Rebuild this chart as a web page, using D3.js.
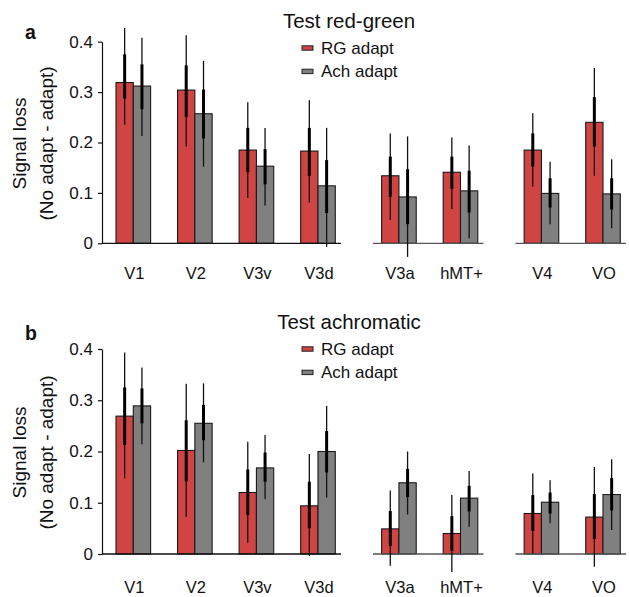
<!DOCTYPE html>
<html>
<head>
<meta charset="utf-8">
<script src="https://cdn.jsdelivr.net/npm/d3@7"></script>
<style>
    body { margin: 0; background: #fff; }
    text { font-family: "Liberation Sans", Arial, sans-serif; fill: #111; }
</style>
</head>
<body>
<div class="canvas"></div>
<script>
// Data
const regions = ['V1', 'V2', 'V3v', 'V3d', 'V3a', 'hMT+', 'V4', 'VO'];
const regionGroup = [0, 0, 0, 0, 1, 1, 2, 2];
const yTicks = [0, 0.1, 0.2, 0.3, 0.4];
const seriesNames = ['RG adapt', 'Ach adapt'];

// Panel a: test red-green
const rgTestRgAdapt = [0.319, 0.304, 0.185, 0.183, 0.134, 0.141, 0.185, 0.240];
const rgTestRgInner = [[0.287, 0.375], [0.251, 0.353], [0.141, 0.229], [0.134, 0.229], [0.092, 0.172], [0.108, 0.172], [0.152, 0.218], [0.192, 0.290]];
const rgTestRgOuter = [[0.235, 0.427], [0.192, 0.413], [0.090, 0.280], [0.081, 0.284], [0.046, 0.218], [0.068, 0.210], [0.112, 0.258], [0.134, 0.348]];
const rgTestAchAdapt = [0.312, 0.257, 0.153, 0.114, 0.092, 0.104, 0.099, 0.098];
const rgTestAchInner = [[0.266, 0.355], [0.208, 0.305], [0.117, 0.187], [0.060, 0.165], [0.038, 0.147], [0.061, 0.144], [0.071, 0.129], [0.067, 0.129]];
const rgTestAchOuter = [[0.213, 0.408], [0.152, 0.362], [0.075, 0.229], [-0.007, 0.229], [-0.027, 0.212], [0.010, 0.194], [0.038, 0.162], [0.030, 0.167]];

// Panel b: test achromatic
const achTestRgAdapt = [0.269, 0.202, 0.120, 0.094, 0.049, 0.040, 0.079, 0.072];
const achTestRgInner = [[0.213, 0.325], [0.142, 0.261], [0.076, 0.165], [0.050, 0.141], [0.016, 0.084], [0.006, 0.074], [0.045, 0.115], [0.029, 0.117]];
const achTestRgOuter = [[0.148, 0.393], [0.072, 0.332], [0.022, 0.219], [-0.004, 0.195], [-0.023, 0.124], [-0.035, 0.115], [0.001, 0.157], [-0.025, 0.170]];
const achTestAchAdapt = [0.289, 0.255, 0.168, 0.200, 0.139, 0.109, 0.101, 0.116];
const achTestAchInner = [[0.255, 0.323], [0.222, 0.291], [0.141, 0.198], [0.159, 0.240], [0.111, 0.166], [0.083, 0.133], [0.079, 0.120], [0.085, 0.148]];
const achTestAchOuter = [[0.214, 0.364], [0.179, 0.333], [0.107, 0.232], [0.110, 0.289], [0.077, 0.200], [0.053, 0.162], [0.060, 0.144], [0.047, 0.185]];

const colors = ['#d04444', '#808080'];

// Layout
const dims = { width: 629, height: 597, axisX: 102, barWidth: 17.3, groupGap: 0.315 };

const svg = d3.select('.canvas')
    .append('svg')
    .attr('width', dims.width)
    .attr('height', dims.height);

// slot position of each region, with extra space between groups
const slot = regions.map((r, i) => i + regionGroup[i] * dims.groupGap);
const x = d3.scaleLinear()
    .domain([0, d3.max(slot)])
    .range([133.3, 603]);

const panels = [
    { label: 'a', title: 'Test red-green', top: 41.7, bottom: 243.3, dy: 0,
      values: [rgTestRgAdapt, rgTestAchAdapt], inner: [rgTestRgInner, rgTestAchInner], outer: [rgTestRgOuter, rgTestAchOuter] },
    { label: 'b', title: 'Test achromatic', top: 349, bottom: 554, dy: 301,
      values: [achTestRgAdapt, achTestAchAdapt], inner: [achTestRgInner, achTestAchInner], outer: [achTestRgOuter, achTestAchOuter] }
];

panels.forEach(p => {
    const g = svg.append('g');
    const y = d3.scaleLinear().domain([0, 0.4]).range([p.bottom, p.top]);

    // Panel letter and title
    g.append('text')
        .attr('x', 25).attr('y', 38.5 + p.dy)
        .attr('font-size', 19.5).attr('font-weight', 'bold')
        .text(p.label);
    g.append('text')
        .attr('x', 349).attr('y', 28 + p.dy)
        .attr('text-anchor', 'middle')
        .attr('font-size', 20.5)
        .text(p.title);

    // Legend
    seriesNames.forEach((name, s) => {
        const cy = 48 + s * 23.4 + p.dy;
        g.append('rect')
            .attr('x', 302).attr('y', cy - 2.2)
            .attr('width', 11).attr('height', 4.4)
            .attr('fill', colors[s]).attr('stroke', '#222').attr('stroke-width', 1);
        g.append('text')
            .attr('x', 321).attr('y', cy + 6)
            .attr('font-size', 17)
            .text(name);
    });

    // Y axis
    const yAxis = d3.axisLeft(y)
        .tickValues(yTicks)
        .tickSize(4)
        .tickSizeOuter(0)
        .tickPadding(5)
        .tickFormat(d => d === 0 ? '0' : d.toFixed(1));
    const ax = g.append('g')
        .attr('transform', `translate(${dims.axisX},0)`)
        .call(yAxis);
    ax.select('.domain').attr('stroke', '#111').attr('stroke-width', 1.2);
    ax.selectAll('.tick line').attr('stroke', '#111').attr('stroke-width', 1.2);
    ax.selectAll('.tick text')
        .attr('font-size', 17)
        .attr('font-family', '"Liberation Sans", Arial, sans-serif')
        .attr('fill', '#111');

    // Y label
    const midY = (p.top + p.bottom) / 2 + 1;
    [['Signal loss', 19], ['(No adapt - adapt)', 46]].forEach(([t, lx]) => {
        g.append('text')
            .attr('transform', `translate(${lx},${midY}) rotate(-90)`)
            .attr('text-anchor', 'middle')
            .attr('dominant-baseline', 'central')
            .attr('font-size', 19)
            .text(t);
    });

    // Bars
    p.values.forEach((vals, s) => {
        const offset = s === 0 ? -dims.barWidth : 0;
        g.selectAll(null)
            .data(vals)
            .enter()
            .append('rect')
                .attr('x', (d, i) => x(slot[i]) + offset)
                .attr('y', d => y(d))
                .attr('width', dims.barWidth)
                .attr('height', d => y(0) - y(d))
                .attr('fill', colors[s])
                .attr('stroke', '#1a1a1a')
                .attr('stroke-width', 1.1);
    });

    // Group baselines
    d3.range(3).forEach(gi => {
        const idx = regions.map((r, i) => i).filter(i => regionGroup[i] === gi);
        const x0 = gi === 0 ? dims.axisX : x(slot[idx[0]]) - 26;
        const x1 = x(slot[idx[idx.length - 1]]) + 23;
        g.append('line')
            .attr('x1', x0).attr('x2', x1)
            .attr('y1', y(0)).attr('y2', y(0))
            .attr('stroke', gi === 0 ? '#111' : '#555')
            .attr('stroke-width', 1.3);
    });

    // Error bars
    p.values.forEach((vals, s) => {
        const cx = i => x(slot[i]) + (s === 0 ? -dims.barWidth / 2 : dims.barWidth / 2);
        g.selectAll(null)
            .data(p.outer[s])
            .enter()
            .append('line')
                .attr('x1', (d, i) => cx(i)).attr('x2', (d, i) => cx(i))
                .attr('y1', d => y(d[0])).attr('y2', d => y(d[1]))
                .attr('stroke', '#111').attr('stroke-width', 1.3);
        g.selectAll(null)
            .data(p.inner[s])
            .enter()
            .append('line')
                .attr('x1', (d, i) => cx(i)).attr('x2', (d, i) => cx(i))
                .attr('y1', d => y(d[0])).attr('y2', d => y(d[1]))
                .attr('stroke', '#000').attr('stroke-width', 3);
    });

    // Region labels
    g.selectAll(null)
        .data(regions)
        .enter()
        .append('text')
            .attr('x', (d, i) => x(slot[i]) + 1)
            .attr('y', p.bottom + (p.dy ? 39 : 36))
            .attr('text-anchor', 'middle')
            .attr('font-size', 16.5)
            .text(d => d);
});
</script>
</body>
</html>
